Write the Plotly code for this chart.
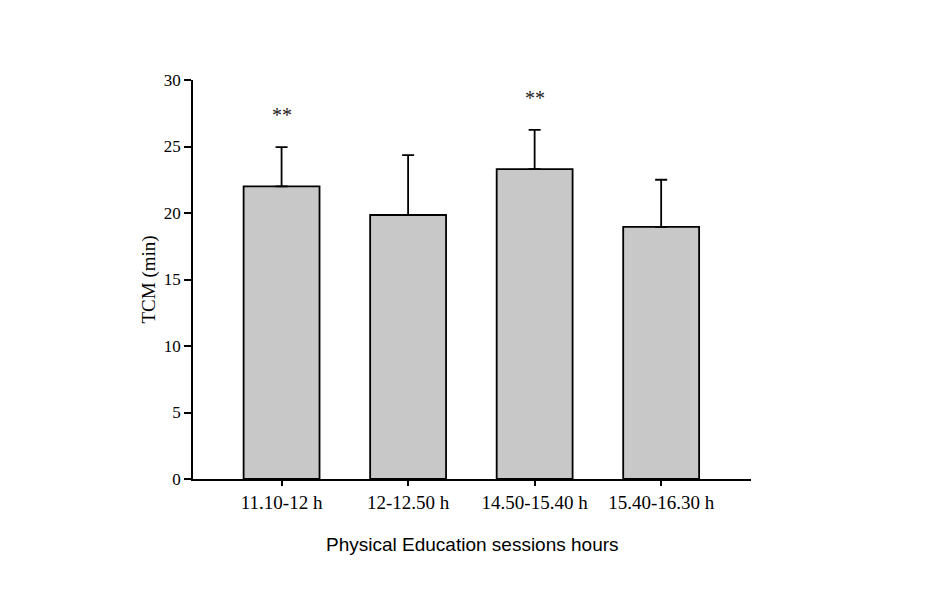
import plotly.graph_objects as go

categories = ["11.10-12 h", "12-12.50 h", "14.50-15.40 h", "15.40-16.30 h"]
means = [22.0, 19.85, 23.3, 18.95]
sd_upper = [2.95, 4.5, 2.95, 3.55]
significance = ["**", "", "**", ""]
y_ticks = [0, 5, 10, 15, 20, 25, 30]

serif = "Liberation Serif, Times New Roman, serif"
sans = "Liberation Sans, Arial, sans-serif"

fig = go.Figure()
fig.add_trace(go.Bar(
    x=list(range(len(categories))),
    y=means,
    width=0.6,
    marker=dict(color="#c8c8c8", line=dict(color="black", width=1.8)),
    error_y=dict(type="data", symmetric=False, array=sd_upper,
                 arrayminus=[0] * len(means), color="black",
                 thickness=1.8, width=6),
    showlegend=False,
))

annotations = []
for i, (m, e, s) in enumerate(zip(means, sd_upper, significance)):
    if s:
        annotations.append(dict(x=i, y=m + e, xref="x", yref="y", text=s,
                                showarrow=False, yanchor="middle", yshift=32,
                                font=dict(family=serif, size=20, color="#222222")))

annotations.append(dict(x=0, y=0.5, xref="paper", yref="paper", text="TCM (min)",
                        textangle=-90, showarrow=False, xanchor="center",
                        yanchor="middle", xshift=-45,
                        font=dict(family=serif, size=19, color="black")))
annotations.append(dict(x=0.5, y=0, xref="paper", yref="paper",
                        text="Physical Education sessions hours",
                        showarrow=False, xanchor="center", yanchor="middle",
                        yshift=-65, font=dict(family=sans, size=19, color="black")))

fig.update_layout(
    width=926, height=610,
    margin=dict(l=185, r=183, t=72, b=139),
    paper_bgcolor="white", plot_bgcolor="white",
    annotations=annotations,
    xaxis=dict(range=[-0.70, 3.71], tickvals=list(range(len(categories))),
               ticktext=categories, showline=True, linecolor="black",
               linewidth=1.8, ticks="outside", ticklen=5, tickwidth=1.5,
               tickcolor="black", showgrid=False, zeroline=False,
               tickfont=dict(family=serif, size=19, color="black")),
    yaxis=dict(range=[0, 30], tickvals=y_ticks, showline=True,
               linecolor="black", linewidth=1.8, ticks="outside", ticklen=7,
               tickwidth=1.5, tickcolor="black", showgrid=False,
               zeroline=False,
               tickfont=dict(family=serif, size=17, color="black")),
)

fig.write_html("out.html")
